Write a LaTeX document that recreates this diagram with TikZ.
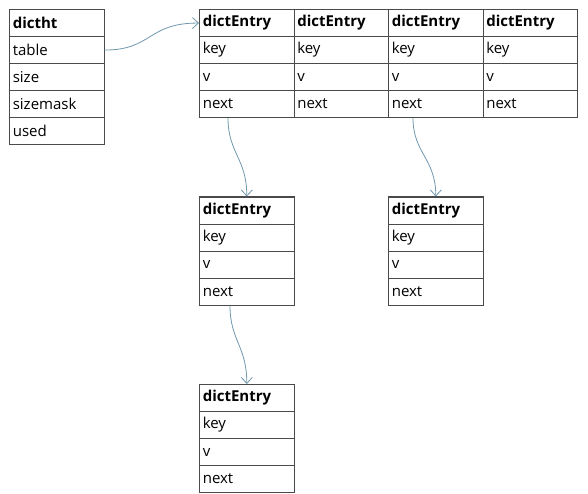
\documentclass[tikz,border=0pt]{standalone}
\usepackage{fontspec}
\setmainfont{Open Sans}
\usetikzlibrary{arrows.meta}
\definecolor{linec}{HTML}{4A4A4A}
\definecolor{arrc}{HTML}{6F97AE}
\begin{document}
\begin{tikzpicture}[x=1pt,y=-1pt,
  cell/.style={draw=linec, line width=1.1pt, rectangle, anchor=north west,
    minimum width=94.5pt, minimum height=27pt, inner xsep=3pt, inner ysep=0pt,
    text width=88pt, align=left, font=\fontsize{15}{16}\selectfont},
  hcell/.style={cell, font=\fontsize{15}{16}\selectfont\bfseries},
  arr/.style={draw=arrc, line width=0.8pt, -{Straight Barb[length=6pt,width=11pt]}}]
\useasboundingbox (0,0) rectangle (588,494);
% dictht
\node[hcell] (ht-0) at (9,9) {dictht};
\node[cell] (ht-1) at (9,36) {table};
\node[cell] (ht-2) at (9,63) {size};
\node[cell] (ht-3) at (9,90) {sizemask};
\node[cell] (ht-4) at (9,117) {used};
% dictEntry tables
\foreach \n/\x/\y in {e1/199/9, e2/293.5/9, e3/388/9, e4/482.5/9, e5/199/196.5, e6/388/196.5, e7/199/384}{
  \node[hcell] (\n-0) at (\x,\y) {dictEntry};
  \node[cell] (\n-1) at (\x,\y+27) {key};
  \node[cell] (\n-2) at (\x,\y+54) {v};
  \node[cell] (\n-3) at (\x,\y+81) {next};
}
% connectors
\draw[arr] (ht-1.east) .. controls +(48,0) and +(-52,0) .. (e1-0.west);
\draw[arr] ([xshift=29pt]e1-3.south west) .. controls +(0,35) and +(0,-38) .. (e5-0.north);
\draw[arr] ([xshift=25pt]e3-3.south west) .. controls +(0,35) and +(0,-38) .. (e6-0.north);
\draw[arr] ([xshift=31pt]e5-3.south west) .. controls +(0,35) and +(0,-38) .. (e7-0.north);
\end{tikzpicture}
\end{document}
